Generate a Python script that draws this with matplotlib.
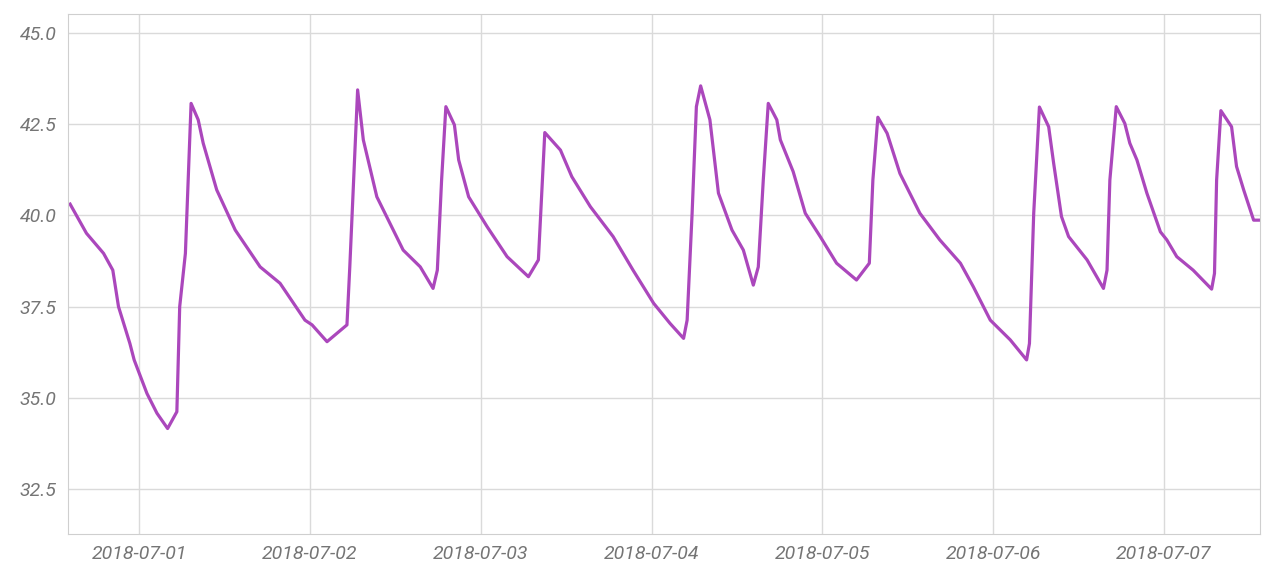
import numpy as np
import pandas as pd
import matplotlib.pyplot as plt
import matplotlib.dates as mdates

# hours after 2018-07-01 00:00, and the reading at that time
hours = [-9.7, -7.4, -5.0, -3.7, -2.9, -1.3, -0.7, 1.1, 2.5, 4.0, 5.3, 5.7, 6.5,
         7.3, 8.3, 9.0, 10.9, 13.5, 17.0, 19.8, 23.3, 24.3, 26.4, 29.2, 29.6,
         30.7, 31.5, 33.4, 37.1, 39.5, 41.3, 41.9, 42.5, 43.1, 44.3, 44.9, 46.3,
         48.9, 51.7, 54.7, 56.1, 57.0, 59.2, 60.8, 63.4, 66.6, 69.4, 72.3, 74.6,
         76.5, 77.0, 77.7, 78.3, 78.9, 80.2, 81.4, 83.3, 84.9, 86.3, 87.0, 87.7,
         88.4, 89.6, 90.1, 91.9, 93.6, 95.7, 98.0, 100.8, 102.6, 103.1, 103.8,
         105.1, 106.9, 109.7, 112.5, 115.4, 117.2, 119.6, 122.4, 124.7, 125.1,
         125.7, 126.5, 127.8, 128.5, 129.6, 130.6, 133.2, 135.5, 136.0, 136.4,
         137.3, 138.5, 139.2, 140.2, 141.6, 143.5, 144.4, 145.8, 148.1, 150.7,
         151.1, 151.4, 152.0, 153.5, 154.2, 155.2, 156.6, 157.3]
values = [40.31, 39.51, 38.96, 38.50, 37.50, 36.49, 36.04, 35.12, 34.58, 34.16,
          34.62, 37.50, 38.96, 43.07, 42.62, 41.98, 40.70, 39.60, 38.59, 38.14,
          37.13, 37.00, 36.54, 37.00, 38.59, 43.44, 42.07, 40.51, 39.05, 38.59,
          38.00, 38.50, 40.97, 42.98, 42.48, 41.52, 40.51, 39.69, 38.87, 38.32,
          38.78, 42.27, 41.79, 41.06, 40.24, 39.42, 38.50, 37.59, 37.04, 36.63,
          37.13, 40.06, 42.98, 43.55, 42.62, 40.61, 39.60, 39.05, 38.09, 38.59,
          40.97, 43.07, 42.62, 42.07, 41.20, 40.06, 39.42, 38.69, 38.23, 38.69,
          40.97, 42.69, 42.25, 41.15, 40.06, 39.33, 38.69, 38.05, 37.13, 36.59,
          36.04, 36.49, 40.06, 42.97, 42.43, 41.43, 39.97, 39.42, 38.78, 38.00,
          38.50, 40.97, 42.98, 42.52, 41.98, 41.52, 40.61, 39.55, 39.33, 38.87,
          38.50, 37.98, 38.41, 40.97, 42.87, 42.43, 41.34, 40.70, 39.87, 39.87]
yticks = [32.5, 35.0, 37.5, 40.0, 42.5, 45.0]

start = pd.Timestamp('2018-07-01')
times = start + pd.to_timedelta(hours, unit='h')

fig = plt.figure(figsize=(12.8, 5.73), dpi=100)
ax = fig.add_axes([0.0531, 0.0681, 0.9313, 0.9075])

ax.plot(times, values, color='#ab47bc', lw=2.3, solid_joinstyle='round')

ax.set_xlim(start + pd.Timedelta(hours=-10), start + pd.Timedelta(hours=157.5))
ax.set_ylim(31.27, 45.52)
ax.set_yticks(yticks)
ax.yaxis.set_major_formatter(plt.FormatStrFormatter('%.1f'))
ax.xaxis.set_major_locator(mdates.DayLocator())
ax.xaxis.set_major_formatter(mdates.DateFormatter('%Y-%m-%d'))

ax.grid(True, color='#dadada', lw=1)
ax.set_axisbelow(True)
for s in ax.spines.values():
    s.set_color('#cfcfcf')
ax.tick_params(length=0, pad=8, labelcolor='#757575')
for lab in ax.get_xticklabels() + ax.get_yticklabels():
    lab.set_fontfamily('Roboto')
    lab.set_fontstyle('italic')
    lab.set_fontsize(14)

fig.savefig('out.png', dpi=100)
